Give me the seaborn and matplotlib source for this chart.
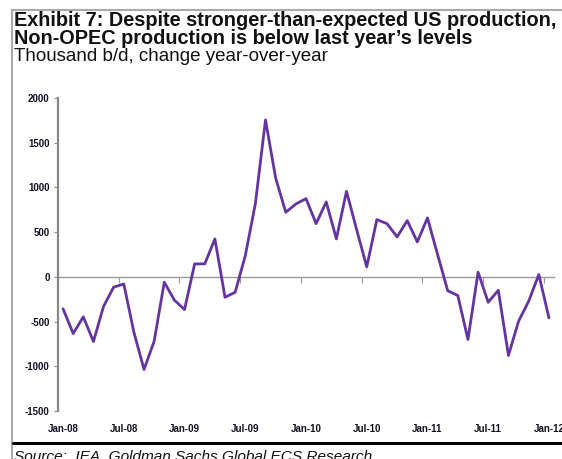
import matplotlib
matplotlib.use("Agg")
import matplotlib.pyplot as plt
import matplotlib.lines as mlines
import numpy as np
import pandas as pd
import seaborn as sns

# Non-OPEC production, thousand b/d, change year-over-year (monthly, Jan-08 .. Jan-12)
months = pd.date_range("2008-01-01", "2012-01-01", freq="MS").strftime("%b-%y").tolist()
yoy_change = [
    -357, -634, -447, -723, -330, -115, -80, -620, -1036, -719, -60, -261,
    -365, 145, 145, 424, -228, -172, 235, 820, 1755, 1106, 722, 815,
    875, 595, 838, 424, 957, 530, 112, 640, 595, 447, 629, 391,
    659, 250, -155, -209, -700, 52, -284, -150, -879, -496, -272, 26,
    -458,
]
tick_labels = ["Jan-08", "Jul-08", "Jan-09", "Jul-09", "Jan-10",
               "Jul-10", "Jan-11", "Jul-11", "Jan-12"]
y_ticks = [-1500, -1000, -500, 0, 500, 1000, 1500, 2000]

df = pd.DataFrame({"idx": np.arange(len(months)), "month": months, "value": yoy_change})

sns.set_theme(style="white")
plt.rcParams["font.family"] = ["Liberation Sans", "DejaVu Sans"]

W, H = 562, 459
fig = plt.figure(figsize=(W / 100, H / 100), dpi=100)
ax = fig.add_axes([58 / W, (H - 411) / H, (554 - 58) / W, (411 - 98) / H])

sns.lineplot(data=df, x="idx", y="value", ax=ax, color="#6434a0", linewidth=2.0)

ymin, ymax = -1500, 2000
ax.set_ylim(ymin, ymax)
ax.set_xlim(-0.5, len(months) - 0.5)
ax.set_xlabel("")
ax.set_ylabel("")

# y axis
ax.set_yticks(y_ticks)
ax.set_yticklabels([str(v) for v in y_ticks], fontsize=7, fontweight="bold", color="#111122")
ax.tick_params(axis="y", direction="out", length=3, width=0.8, color="#888888", pad=3, left=True)
for side in ["top", "right", "bottom"]:
    ax.spines[side].set_visible(False)
ax.spines["left"].set_color("#888888")
ax.spines["left"].set_linewidth(1.6)

# category labels at the bottom of the plot area
label_pos = [months.index(t) for t in tick_labels]
ax.set_xticks(label_pos)
ax.set_xticklabels(tick_labels, fontsize=7, fontweight="bold", color="#111122")
ax.tick_params(axis="x", length=0, pad=9.5, bottom=True)

# zero line with tick marks between categories
zero_frac = (0 - ymin) / (ymax - ymin)
sec = ax.secondary_xaxis(zero_frac)
sec.set_xticks(np.arange(-0.5, len(months), 6))
sec.set_xticklabels([])
sec.tick_params(axis="x", direction="out", length=4, width=0.8, color="#999999")
sec.spines["bottom"].set_color("#999999")
sec.spines["bottom"].set_linewidth(1.0)
ax.grid(False)

# titles
fig.text(14 / W, 1 - 26 / H, "Exhibit 7: Despite stronger-than-expected US production,",
         fontsize=14.3, fontweight="bold", color="#111111", va="baseline", ha="left")
fig.text(14 / W, 1 - 44 / H, "Non-OPEC production is below last year\u2019s levels",
         fontsize=14.3, fontweight="bold", color="#111111", va="baseline", ha="left")
fig.text(14 / W, 1 - 61 / H, "Thousand b/d, change year-over-year",
         fontsize=13.5, color="#111111", va="baseline", ha="left")

# frame and source line
fig.add_artist(mlines.Line2D([12 / W, 1], [1 - 10 / H, 1 - 10 / H], transform=fig.transFigure,
                             color="#aaaaaa", linewidth=1.5))
fig.add_artist(mlines.Line2D([12 / W, 12 / W], [0, 1 - 10 / H], transform=fig.transFigure,
                             color="#aaaaaa", linewidth=1.5))
fig.add_artist(mlines.Line2D([13 / W, 1], [1 - 443 / H, 1 - 443 / H], transform=fig.transFigure,
                             color="black", linewidth=2.2))
fig.text(14 / W, 1 - 461 / H, "Source:  IEA, Goldman Sachs Global ECS Research",
         fontsize=11.1, fontstyle="italic", color="#111111", va="baseline", ha="left")

fig.savefig("out.png", dpi=100)
